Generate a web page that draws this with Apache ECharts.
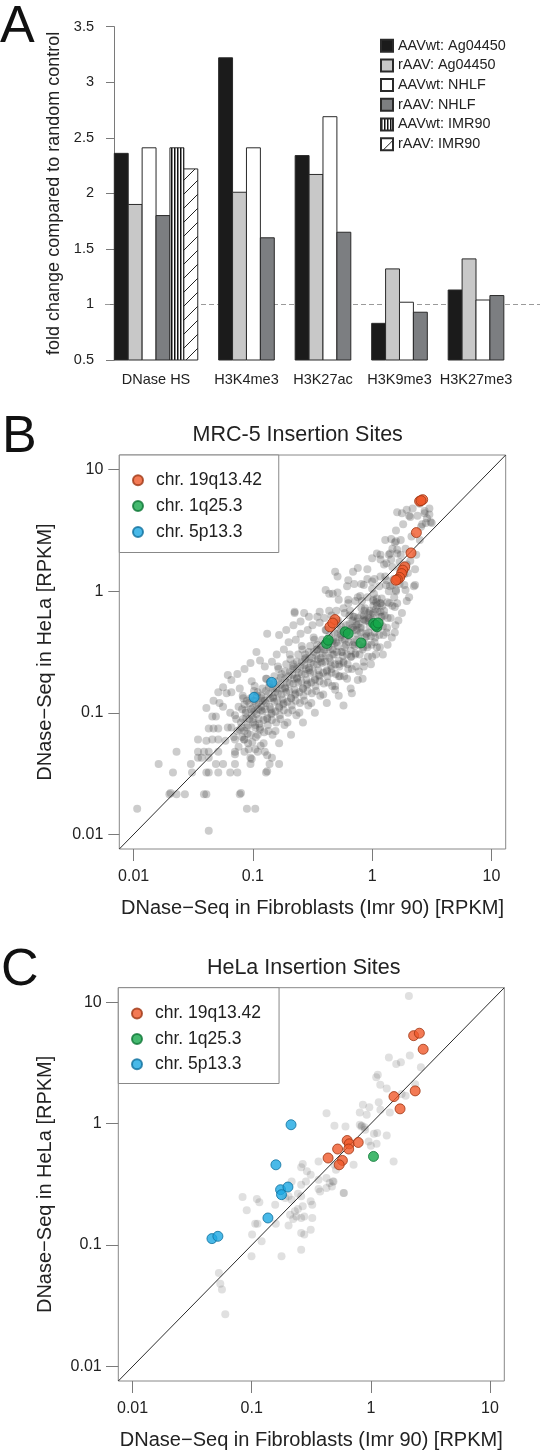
<!DOCTYPE html>
<html><head><meta charset="utf-8">
<script src="https://cdn.jsdelivr.net/npm/echarts@6/dist/echarts.min.js"></script>
<style>html,body{margin:0;padding:0;background:#fff}#c{width:550px;height:1452px}</style>
</head><body><div id="c"></div>
<script>
// ---------------- Panel A data ----------------
const groupNames = ['DNase HS', 'H3K4me3', 'H3K27ac', 'H3K9me3', 'H3K27me3'];
const barSeriesNames = ['AAVwt: Ag04450', 'rAAV: Ag04450', 'AAVwt: NHLF', 'rAAV: NHLF', 'AAVwt: IMR90', 'rAAV: IMR90'];
const aavwtAg04450 = [2.36, 3.22, 2.34, 0.83, 1.13];
const raavAg04450  = [1.90, 2.01, 2.17, 1.32, 1.41];
const aavwtNHLF    = [2.41, 2.41, 2.69, 1.02, 1.04];
const raavNHLF     = [1.80, 1.60, 1.65, 0.93, 1.08];
const aavwtIMR90   = [2.41, null, null, null, null];
const raavIMR90    = [2.22, null, null, null, null];
const barValues = [aavwtAg04450, raavAg04450, aavwtNHLF, raavNHLF, aavwtIMR90, raavIMR90];

// ---------------- Panel B / C data (log10 RPKM: [Imr90, HeLa]) ----------------
const chrNames = ['chr. 19q13.42', 'chr. 1q25.3', 'chr. 5p13.3'];
const axisTicksLog = [0.01, 0.1, 1, 10];

const mrc5Other = [
[-1.97,-1.79],[-1.79,-1.42],[-1.67,-1.49],[-1.64,-1.32],[-1.70,-1.67],[-1.69,-1.66],[-1.64,-1.67],[-1.57,-1.67],[-1.41,-1.67],[-1.39,-1.67],[-1.11,-1.67],[-1.10,-1.66],[-1.05,-1.79],[-0.98,-1.79],[-1.37,-1.97],
[-1.52,-1.42],[-1.46,-1.37],[-1.43,-1.37],[-1.37,-1.37],[-1.31,-1.42],[-1.25,-1.42],[-1.15,-1.42],[-1.02,-1.42],[-0.86,-1.42],[-0.78,-1.42],
[-1.51,-1.49],[-1.39,-1.49],[-1.37,-1.49],[-1.29,-1.49],[-1.19,-1.49],[-1.13,-1.49],[-0.89,-1.49],[-0.88,-1.48],
[-1.02,-1.37],[-1.01,-1.38],[-0.84,-1.37],
[-1.46,-1.22],[-1.39,-1.23],[-1.34,-1.22],[-1.29,-1.22],[-1.23,-1.23],[-1.15,-1.22],[-1.07,-1.22],
[-1.46,-1.32],[-1.41,-1.32],[-1.37,-1.32],[-1.29,-1.32],[-1.15,-1.32],[-1.07,-1.32],[-0.96,-1.32],[-0.90,-1.32],
[-1.37,-1.13],[-1.33,-1.13],[-1.29,-1.13],[-1.21,-1.12],[-1.31,-1.03],[-1.34,-1.03],[-1.28,-0.92],[-1.25,-0.95],[-1.22,-0.84],[-1.18,-0.83],
[-0.97,-0.50],[-1.02,-0.59],[-0.94,-0.57],[-1.07,-0.64],[-1.13,-0.68],[-1.18,-0.73],[-1.21,-0.69],[-1.25,-0.79],[-1.29,-0.83],[-1.33,-0.90],[-1.39,-0.96],
[-0.88,-0.35],[-0.78,-0.36],[-0.72,-0.32],[-0.66,-0.28],[-0.60,-0.25],[-0.53,-0.21],[-0.44,-0.17],[-0.65,-0.18],[-0.36,-0.02],[-0.29,-0.01],[-0.21,0.04],[-0.15,0.06],[-0.07,0.05],[0.00,0.08],
[0.04,-0.46],[0.00,-0.54],[-0.07,-0.62],[-0.12,-0.73],[-0.17,-0.84],[-0.24,-0.94],[-0.31,-0.81],[-0.28,-0.70],[-0.20,-0.64],
[0.21,0.65],[0.25,0.64],[0.29,0.67],[0.32,0.61],[0.44,0.64],[0.48,0.63],[0.49,0.57],[0.50,0.56],[0.45,0.56],[0.41,0.53],
[0.11,0.42],[0.16,0.43],[0.20,0.41],[0.19,0.40],[0.17,0.35],[0.21,0.31],[0.15,0.31],[0.14,0.30],[0.04,0.31],[0.07,0.26],[0.00,0.27],[0.12,0.23],[0.17,0.20],[0.23,0.24],
[-0.12,0.19],[-0.16,0.16],[-0.31,0.16],[-0.29,0.12],[-0.20,0.09],[-0.09,0.06],[-0.04,0.10],[0.07,0.12],[0.12,0.09],[0.15,0.04],[0.20,0.01],[0.28,0.01],[0.36,0.05],[0.35,0.04],[0.31,-0.05],
[-0.39,0.01],[-0.33,-0.02],[-0.28,-0.07],[-0.20,-0.07],[-0.12,-0.05],[-0.04,-0.05],[0.01,-0.07],[0.07,-0.10],[0.13,-0.09],[0.19,-0.13],
[-0.65,-0.17],[-0.57,-0.18],[-0.46,-0.21],[-0.36,-0.16],[-0.23,-0.18],[-0.15,-0.21],[-0.07,-0.20],[0.01,-0.18],[0.07,-0.21],
[-1.15,-1.02],[-1.12,-0.95],[-1.10,-1.08],[-1.08,-0.88],[-1.13,-1.15],[-1.06,-1.00],[-1.09,-1.20],[-1.11,-0.80],[-1.05,-1.12],[-1.07,-0.93],
[-1.03,-1.05],[-1.00,-0.96],[-0.98,-1.10],[-1.02,-0.88],[-0.96,-1.18],[-0.99,-0.82],[-1.04,-1.25],[-0.97,-1.01],[-1.01,-0.74],[-0.95,-0.92],[-0.98,-1.30],
[-0.93,-0.98],[-0.90,-0.90],[-0.88,-1.05],[-0.92,-0.80],[-0.87,-1.15],[-0.94,-1.12],[-0.89,-0.72],[-0.91,-1.25],[-0.86,-0.95],[-0.90,-0.62],[-0.93,-0.86],[-0.88,-1.35],
[-0.83,-0.88],[-0.80,-0.80],[-0.78,-0.95],[-0.82,-0.70],[-0.77,-1.05],[-0.84,-1.00],[-0.79,-0.62],[-0.81,-1.15],[-0.76,-0.85],[-0.80,-0.52],[-0.83,-0.76],[-0.78,-1.25],[-0.84,-0.58],
[-0.73,-0.80],[-0.70,-0.70],[-0.68,-0.88],[-0.72,-0.60],[-0.67,-0.98],[-0.74,-0.92],[-0.69,-0.52],[-0.71,-1.08],[-0.66,-0.76],[-0.70,-0.42],[-0.73,-0.66],[-0.68,-1.18],[-0.74,-0.48],[-0.66,-0.62],
[-0.63,-0.72],[-0.60,-0.62],[-0.58,-0.80],[-0.62,-0.52],[-0.57,-0.90],[-0.64,-0.84],[-0.59,-0.45],[-0.61,-1.00],[-0.56,-0.68],[-0.60,-0.35],[-0.63,-0.58],[-0.58,-1.08],[-0.64,-0.40],[-0.56,-0.55],
[-0.53,-0.65],[-0.50,-0.55],[-0.48,-0.73],[-0.52,-0.45],[-0.47,-0.82],[-0.54,-0.76],[-0.49,-0.38],[-0.51,-0.92],[-0.46,-0.60],[-0.50,-0.28],[-0.53,-0.50],[-0.48,-1.00],[-0.54,-0.32],[-0.46,-0.48],
[-0.43,-0.58],[-0.40,-0.48],[-0.38,-0.66],[-0.42,-0.40],[-0.37,-0.75],[-0.44,-0.70],[-0.39,-0.32],[-0.41,-0.85],[-0.36,-0.55],[-0.40,-0.22],[-0.43,-0.45],[-0.38,-0.92],[-0.44,-0.26],[-0.36,-0.42],
[-0.33,-0.52],[-0.30,-0.42],[-0.28,-0.60],[-0.32,-0.34],[-0.27,-0.70],[-0.34,-0.64],[-0.29,-0.26],[-0.31,-0.78],[-0.26,-0.50],[-0.30,-0.16],[-0.33,-0.40],[-0.28,-0.86],[-0.34,-0.20],[-0.26,-0.36],
[-0.23,-0.46],[-0.20,-0.36],[-0.18,-0.54],[-0.22,-0.28],[-0.17,-0.64],[-0.24,-0.58],[-0.19,-0.20],[-0.21,-0.72],[-0.16,-0.44],[-0.20,-0.10],[-0.23,-0.34],[-0.18,-0.80],[-0.24,-0.14],[-0.16,-0.30],
[-0.13,-0.40],[-0.10,-0.30],[-0.08,-0.48],[-0.12,-0.22],[-0.07,-0.58],[-0.14,-0.52],[-0.09,-0.14],[-0.11,-0.66],[-0.06,-0.38],[-0.10,-0.04],[-0.13,-0.28],[-0.08,-0.72],[-0.14,-0.08],[-0.06,-0.24],
[-0.03,-0.34],[0.00,-0.24],[0.02,-0.42],[-0.02,-0.16],[0.03,-0.52],[-0.04,-0.46],[0.01,-0.08],[-0.01,-0.60],[0.04,-0.30],[0.00,0.02],[-0.03,-0.22],[0.02,0.10],[-0.04,0.18],[0.04,-0.12],
[0.07,-0.26],[0.10,-0.16],[0.12,-0.34],[0.08,-0.06],[0.13,-0.44],[0.06,0.04],[0.11,0.12],[0.09,-0.52],[0.14,0.00],[0.10,0.22],[0.07,0.30],[0.13,-0.22],
[0.17,-0.12],[0.20,0.00],[0.22,-0.24],[0.18,0.10],[0.23,0.18],[0.16,0.26],[0.21,0.34],[0.19,-0.34],[0.24,0.42],[0.20,0.50],[0.17,0.05],
[0.27,0.05],[0.30,0.15],[0.32,0.25],[0.28,0.35],[0.33,0.45],[0.26,0.55],[0.31,0.62],[0.29,-0.08],[0.34,0.68],
[0.37,0.30],[0.40,0.42],[0.42,0.55],[0.38,0.62],[0.44,0.66],[0.46,0.60],[0.40,0.72],[0.36,0.18],[0.48,0.68],
[-1.08,-1.05],[-1.06,-0.98],[-1.04,-1.10],[-1.03,-0.92],[-1.01,-1.02],[-1.07,-1.15],[-1.02,-1.18],[-1.05,-0.90],[-1.00,-1.08],[-1.09,-0.97],
[-0.99,-0.99],[-0.97,-0.93],[-0.95,-1.05],[-0.93,-0.88],[-0.92,-0.99],[-0.98,-1.12],[-0.94,-1.14],[-0.96,-0.83],[-0.91,-1.06],[-0.99,-0.90],[-0.93,-0.95],
[-0.89,-0.92],[-0.87,-0.85],[-0.85,-0.97],[-0.83,-0.80],[-0.82,-0.91],[-0.88,-1.04],[-0.84,-1.06],[-0.86,-0.76],[-0.81,-0.99],[-0.89,-0.82],[-0.83,-0.87],
[-0.79,-0.84],[-0.77,-0.77],[-0.75,-0.89],[-0.73,-0.72],[-0.72,-0.83],[-0.78,-0.96],[-0.74,-0.98],[-0.76,-0.68],[-0.71,-0.91],[-0.79,-0.74],[-0.73,-0.79],
[-0.69,-0.76],[-0.67,-0.69],[-0.65,-0.81],[-0.63,-0.64],[-0.62,-0.75],[-0.68,-0.88],[-0.64,-0.90],[-0.66,-0.60],[-0.61,-0.83],[-0.69,-0.66],[-0.63,-0.71],
[-0.59,-0.68],[-0.57,-0.61],[-0.55,-0.73],[-0.53,-0.56],[-0.52,-0.67],[-0.58,-0.80],[-0.54,-0.82],[-0.56,-0.52],[-0.51,-0.75],[-0.59,-0.58],[-0.53,-0.63],
[-0.49,-0.60],[-0.47,-0.53],[-0.45,-0.65],[-0.43,-0.48],[-0.42,-0.59],[-0.48,-0.72],[-0.44,-0.74],[-0.46,-0.44],[-0.41,-0.67],[-0.49,-0.50],[-0.43,-0.55],
[-0.39,-0.53],[-0.37,-0.46],[-0.35,-0.58],[-0.33,-0.41],[-0.32,-0.52],[-0.38,-0.65],[-0.34,-0.67],[-0.36,-0.37],[-0.31,-0.60],[-0.39,-0.43],[-0.33,-0.48],
[-0.29,-0.45],[-0.27,-0.38],[-0.25,-0.50],[-0.23,-0.33],[-0.22,-0.44],[-0.28,-0.57],[-0.24,-0.59],[-0.26,-0.29],[-0.21,-0.52],[-0.29,-0.35],[-0.23,-0.40],
[-0.19,-0.37],[-0.17,-0.30],[-0.15,-0.42],[-0.13,-0.25],[-0.12,-0.36],[-0.18,-0.49],[-0.14,-0.51],[-0.16,-0.21],[-0.11,-0.44],[-0.19,-0.27],[-0.13,-0.32],
[-0.09,-0.30],[-0.07,-0.23],[-0.05,-0.35],[-0.03,-0.18],[-0.02,-0.29],[-0.08,-0.42],[-0.04,-0.44],[-0.06,-0.14],[-0.01,-0.37],[-0.09,-0.20],[-0.03,-0.25],
[0.01,-0.22],[0.03,-0.15],[0.05,-0.27],[0.07,-0.10],[0.08,-0.21],[0.02,-0.34],[0.06,-0.36],[0.04,-0.06],[0.09,-0.29],[0.01,-0.12],[0.07,-0.17],
[-1.18,-1.12],[-1.16,-1.20],[-1.14,-1.05],[-1.12,-1.28],[-1.19,-1.00],[-1.15,-1.34],[-1.11,-1.14],
[-1.095,-1.12],[-1.075,-1.22],[-1.055,-1.04],[-1.035,-1.30],[-1.015,-0.97],[-1.085,-0.86],[-1.045,-1.17],[-1.005,-1.24],
[-0.995,-1.05],[-0.975,-1.20],[-0.955,-0.97],[-0.935,-1.27],[-0.915,-0.90],[-0.985,-0.78],[-0.945,-1.09],[-0.905,-1.16],[-0.965,-0.86],
[-0.895,-0.97],[-0.875,-1.10],[-0.855,-0.88],[-0.835,-1.18],[-0.815,-0.83],[-0.885,-0.72],[-0.845,-1.01],[-0.805,-1.08],[-0.865,-0.79],
[-0.795,-0.90],[-0.775,-1.02],[-0.755,-0.80],[-0.735,-1.10],[-0.715,-0.75],[-0.785,-0.64],[-0.745,-0.93],[-0.705,-1.00],[-0.765,-0.71],
[-0.695,-0.82],[-0.675,-0.94],[-0.655,-0.72],[-0.635,-1.02],[-0.615,-0.67],[-0.685,-0.56],[-0.645,-0.85],[-0.605,-0.92],[-0.665,-0.64],
[-0.595,-0.74],[-0.575,-0.86],[-0.555,-0.64],[-0.535,-0.94],[-0.515,-0.59],[-0.585,-0.48],[-0.545,-0.77],[-0.505,-0.84],[-0.565,-0.56],
[-0.495,-0.66],[-0.475,-0.78],[-0.455,-0.56],[-0.435,-0.86],[-0.415,-0.51],[-0.485,-0.40],[-0.445,-0.69],[-0.405,-0.76],[-0.465,-0.48],
[-0.395,-0.58],[-0.375,-0.70],[-0.355,-0.48],[-0.335,-0.78],[-0.315,-0.43],[-0.385,-0.32],[-0.345,-0.61],[-0.305,-0.68],[-0.365,-0.40],
[-0.295,-0.50],[-0.275,-0.62],[-0.255,-0.40],[-0.235,-0.70],[-0.215,-0.35],[-0.285,-0.24],[-0.245,-0.53],[-0.205,-0.60],[-0.265,-0.32],
[-0.195,-0.42],[-0.175,-0.54],[-0.155,-0.32],[-0.135,-0.62],[-0.115,-0.27],[-0.185,-0.16],[-0.145,-0.45],[-0.105,-0.52],[-0.165,-0.24],
[-0.095,-0.34],[-0.075,-0.46],[-0.055,-0.24],[-0.035,-0.54],[-0.015,-0.19],[-0.085,-0.08],[-0.045,-0.37],[-0.005,-0.44],[-0.065,-0.16],
[0.005,-0.27],[0.025,-0.38],[0.045,-0.17],[0.065,-0.46],[0.085,-0.12],[0.015,-0.02],[0.055,-0.30],[0.095,-0.36],[0.035,-0.09],
[0.105,-0.20],[0.125,-0.30],[0.145,-0.10],[0.165,-0.38],[0.185,-0.05],[0.115,0.05],[0.155,-0.22],[0.195,-0.28],
[0.21,-0.10],[0.23,0.06],[0.25,-0.18],[0.27,0.14],[0.29,0.22],[0.24,0.30]
];
const mrc5Chr19 = [[0.398,0.740],[0.424,0.753],[0.410,0.745],[0.371,0.482],[0.326,0.315],[0.273,0.200],[0.257,0.173],[0.247,0.145],[0.231,0.113],[0.212,0.096],[0.199,0.090],[-0.354,-0.293],[-0.312,-0.233],[-0.330,-0.262]];
const mrc5Chr1 = [[-0.382,-0.430],[-0.368,-0.403],[-0.226,-0.334],[-0.200,-0.348],[-0.093,-0.425],[0.013,-0.265],[0.040,-0.293],[0.030,-0.280],[0.050,-0.262]];
const mrc5Chr5 = [[-0.842,-0.750],[-0.990,-0.873]];
const mrc5CountText = ['16', '12', '7', '25', '3', '3', '6', '2'];
const mrc5CountAt = [[0.559,0.756],[0.400,0.145],[-0.466,-0.175],[0.177,-0.315],[-0.186,-0.449],[0.003,-0.471],[-0.325,-0.534],[-0.920,-0.663]];

const helaOther = [
[0.319,1.052],[0.327,0.561],[0.252,0.506],[0.213,0.492],[0.151,0.544],[0.045,0.383],[0.058,0.402],[0.420,0.465],[0.372,0.325],[0.133,0.289],[0.258,0.245],[0.292,0.229],
[0.066,0.177],[-0.067,0.155],[-0.013,0.136],[-0.372,0.086],[-0.093,0.092],[-0.035,0.073],[0.080,0.114],[0.159,0.092],[-0.306,-0.018],[-0.213,-0.023],[-0.093,-0.010],[-0.053,-0.029],
[0.053,-0.078],[0.133,-0.097],[0.079,0.320],[0.191,-0.311],[-0.019,-0.147],[-0.048,-0.050],[-0.075,-0.018],[-0.145,-0.339],[-0.313,-0.476],[-0.327,-0.517],[-0.229,-0.571],
[-0.080,-0.023],[0.026,-0.083],[0.048,-0.166],[0.000,-0.182],[-0.439,-0.311],[-0.572,-0.333],[-0.585,-0.360],[-0.537,-0.393],[-0.505,-0.421],[-0.545,-0.476],[-0.439,-0.462],
[-0.373,-0.448],[-0.346,-0.489],[-0.319,-0.476],[-0.293,-0.380],[-0.306,-0.338],[-0.226,-0.572],[-0.439,-0.539],[-0.426,-0.558],[-0.373,-0.530],[-0.585,-0.503],[-0.612,-0.577],
[-0.585,-0.599],[-0.665,-0.476],[-0.492,-0.668],[-0.505,-0.640],[-0.572,-0.681],[-0.612,-0.703],[-0.638,-0.722],[-0.691,-0.599],[-0.665,-0.626],[-0.718,-0.613],[-0.585,-0.777],
[-0.559,-0.764],[-0.625,-0.764],[-0.492,-0.777],[-0.678,-0.750],[-0.652,-0.786],[-0.505,-0.873],[-0.585,-0.901],[-0.691,-0.840],[-0.559,-0.914],[-0.803,-0.668],[-0.957,-0.621],
[-0.936,-0.648],[-1.077,-0.605],[-1.042,-0.714],[-0.971,-0.824],[-0.952,-0.824],[-0.798,-0.824],[-0.997,-0.914],[-0.917,-0.969],[-1.002,-1.093],[-0.750,-1.093],[-0.585,-1.038],
[-1.276,-1.230],[-1.264,-1.318],[-1.250,-1.367],[-1.222,-1.570]
];
const helaChr19 = [[0.359,0.725],[0.407,0.745],[0.439,0.613],[0.372,0.270],[0.194,0.223],[0.245,0.122],[-0.199,-0.139],[-0.181,-0.166],[-0.106,-0.155],[-0.279,-0.209],[-0.186,-0.209],[-0.359,-0.283],[-0.239,-0.303],[-0.266,-0.339]];
const helaChr1 = [[0.022,-0.270]];
const helaChr5 = [[-0.670,-0.009],[-0.797,-0.339],[-0.758,-0.544],[-0.696,-0.522],[-0.750,-0.585],[-0.864,-0.777],[-1.334,-0.947],[-1.284,-0.928]];
const helaCountText = ['10', '13'];
const helaCountAt = [[-0.545,0.054],[-0.359,-0.100]];

// ---------------- build ----------------
const F = "'Liberation Sans', Arial, Helvetica, sans-serif";
const TXT = '#222';
const AXC = '#7a7a7a';
const LOG_MIN = Math.pow(10, -2.12), LOG_MAX = Math.pow(10, 1.12);
const toRPKM = arr => arr.map(p => [Math.pow(10, p[0]), Math.pow(10, p[1])]);

function stripePattern() {
  const c = document.createElement('canvas'); c.width = 3; c.height = 3;
  const g = c.getContext('2d'); g.fillStyle = '#fff'; g.fillRect(0, 0, 3, 3);
  g.fillStyle = '#111'; g.fillRect(0, 0, 1.5, 3);
  return { image: c, repeat: 'repeat' };
}
function hatchPattern() {
  const c = document.createElement('canvas'); c.width = 14; c.height = 14;
  const g = c.getContext('2d'); g.fillStyle = '#fff'; g.fillRect(0, 0, 14, 14);
  g.strokeStyle = '#222'; g.lineWidth = 1; g.beginPath();
  g.moveTo(0, 14); g.lineTo(14, 0); g.moveTo(-1, 1); g.lineTo(1, -1); g.moveTo(13, 15); g.lineTo(15, 13);
  g.stroke();
  return { image: c, repeat: 'repeat' };
}
const barFills = ['#1b1b1b', '#c8c8c8', '#ffffff', '#7c7e81', stripePattern(), hatchPattern()];

const groupStart = [], groupCenter = [];
let cursor = 0;
groupNames.forEach((g, gi) => {
  const n = barValues.filter(v => v[gi] != null).length;
  groupStart.push(cursor); groupCenter.push(cursor + n / 2);
  cursor += n + 1.5;
});
function barData(si) {
  const out = [];
  groupNames.forEach((g, gi) => {
    const v = barValues[si][gi];
    if (v == null) return;
    let slot = 0;
    for (let k = 0; k < si; k++) if (barValues[k][gi] != null) slot++;
    out.push([groupStart[gi] + slot, v]);
  });
  return out;
}
const barSeries = barSeriesNames.map((name, si) => ({
  type: 'custom', name, xAxisIndex: 0, yAxisIndex: 0, z: 3,
  itemStyle: { color: barFills[si], borderColor: '#2a2a2a', borderWidth: 1 },
  encode: { x: 0, y: 1 },
  data: barData(si),
  renderItem: (params, api) => {
    const x = api.value(0), v = api.value(1);
    const a = api.coord([x, v]), b = api.coord([x + 1, 0.5]);
    return { type: 'rect', shape: { x: a[0], y: a[1], width: b[0] - a[0], height: b[1] - a[1] },
      style: { fill: barFills[si], stroke: '#2a2a2a', lineWidth: 1 } };
  },
  markLine: si === 0 ? { silent: true, symbol: 'none', z: 1, label: { show: false },
    lineStyle: { type: [5, 3], color: '#9a9a9a', width: 1 }, data: [{ yAxis: 1 }] } : undefined
}));

const chrColors = [
  { color: '#f0592b', borderColor: '#9e3613' },
  { color: '#17a84b', borderColor: '#0d7534' },
  { color: '#1ca8e2', borderColor: '#0f6f9c' }
];
function scatterPanel(idx, other, grayColor, groups, countText, countAt) {
  const s = [];
  s.push({ type: 'scatter', xAxisIndex: idx, yAxisIndex: idx, silent: true, z: 2,
    symbolSize: 8, itemStyle: { color: grayColor }, data: toRPKM(other) });
  s.push({ type: 'line', xAxisIndex: idx, yAxisIndex: idx, silent: true, z: 3, symbol: 'none',
    lineStyle: { color: '#2b2b2b', width: 1 }, data: [[LOG_MIN, LOG_MIN], [LOG_MAX, LOG_MAX]] });
  groups.forEach((g, gi) => s.push({ type: 'scatter', name: chrNames[gi], xAxisIndex: idx, yAxisIndex: idx,
    z: 4, symbolSize: 10, itemStyle: { color: chrColors[gi].color, borderColor: chrColors[gi].borderColor, borderWidth: 1 },
    data: toRPKM(g) }));
  s.push({ type: 'scatter', xAxisIndex: idx, yAxisIndex: idx, silent: true, z: 5, symbolSize: 1,
    itemStyle: { opacity: 0 },
    label: { show: true, position: 'inside', fontSize: 16, fontFamily: F, color: '#333' },
    data: toRPKM(countAt).map((v, i) => ({ value: v, label: { formatter: countText[i] } })) });
  return s;
}
const logFmt = v => String(+Number(v).toPrecision(2));
function logAxis(idx, isX, name, nameGap, labelMargin, tickLen) {
  return {
    type: 'log', logBase: 10, gridIndex: idx, min: LOG_MIN, max: LOG_MAX,
    axisLine: { show: false },
    axisTick: { show: true, customValues: axisTicksLog, length: tickLen, lineStyle: { color: AXC, width: 1 } },
    axisLabel: { customValues: axisTicksLog, formatter: logFmt, fontSize: 16, fontFamily: F, color: TXT, margin: labelMargin },
    splitLine: { show: false }, minorTick: { show: false },
    name, nameLocation: 'middle', nameGap, nameRotate: isX ? 0 : 90,
    nameTextStyle: { fontSize: 20, fontFamily: F, color: TXT }
  };
}
const chrLegend = (left, top, padding, gap) => ({
  data: chrNames, orient: 'vertical', left, top, padding,
  itemWidth: 10, itemHeight: 10, itemGap: gap, selectedMode: false, borderColor: '#888', borderWidth: 1,
  backgroundColor: '#fff', textStyle: { fontSize: 17.5, lineHeight: 17.5, fontFamily: F, color: TXT, padding: [0, 0, 0, 8] }
});

const option = {
  animation: false,
  backgroundColor: '#fff',
  textStyle: { fontFamily: F },
  grid: [
    { left: 105, top: 26.7, width: 435, height: 333.3, show: false },
    { left: 119.3, top: 455, width: 386.4, height: 394, show: true, borderColor: '#888', borderWidth: 1, backgroundColor: 'transparent' },
    { left: 118.3, top: 987.7, width: 386, height: 393.3, show: true, borderColor: '#888', borderWidth: 1, backgroundColor: 'transparent' }
  ],
  xAxis: [
    { type: 'value', gridIndex: 0, min: -0.669, max: 30.6,
      axisLine: { show: false }, axisTick: { show: false }, splitLine: { show: false },
      axisLabel: { customValues: groupCenter, fontSize: 14.5, fontFamily: F, color: TXT, margin: 12,
        formatter: v => groupNames[groupCenter.findIndex(c => Math.abs(c - v) < 1e-6)] || '' } },
    logAxis(1, true, 'DNase\u2212Seq in Fibroblasts (Imr 90) [RPKM]', 49.3, 20, 12),
    logAxis(2, true, 'DNase\u2212Seq in Fibroblasts (Imr 90) [RPKM]', 49, 19.3, 12)
  ],
  yAxis: [
    { type: 'value', gridIndex: 0, min: 0.5, max: 3.5, interval: 0.5,
      axisLine: { show: true, lineStyle: { color: AXC, width: 1 } },
      axisTick: { show: true, length: 8.3, lineStyle: { color: AXC } },
      axisLabel: { fontSize: 14.5, fontFamily: F, color: TXT, margin: 11 },
      splitLine: { show: false },
      name: 'fold change compared to random control', nameLocation: 'middle', nameGap: 41, nameRotate: 90,
      nameTextStyle: { fontSize: 18, fontFamily: F, color: TXT } },
    logAxis(1, false, 'DNase\u2212Seq in HeLa [RPKM]', 64.3, 16, 11),
    logAxis(2, false, 'DNase\u2212Seq in HeLa [RPKM]', 63.3, 16.6, 12.3)
  ],
  legend: [
    { data: barSeriesNames, orient: 'vertical', left: 380, top: 38.2, padding: 0, icon: 'rect',
      itemWidth: 12, itemHeight: 12, itemGap: 4.7, selectedMode: false,
      textStyle: { fontSize: 14.4, lineHeight: 15, fontFamily: F, color: TXT } },
    chrLegend(119.3, 455, [16.25, 16.7, 11.55, 12.7], 7.85),
    chrLegend(118.3, 987.7, [16.85, 18, 10.25, 12.7], 7.35)
  ],
  graphic: [
    { type: 'text', x: 0, y: 27.5, style: { text: 'A', fontSize: 52, fontFamily: F, fill: '#111', verticalAlign: 'middle' } },
    { type: 'text', x: 2, y: 438, style: { text: 'B', fontSize: 52, fontFamily: F, fill: '#111', verticalAlign: 'middle' } },
    { type: 'text', x: 1, y: 971, style: { text: 'C', fontSize: 52, fontFamily: F, fill: '#111', verticalAlign: 'middle' } },
    { type: 'text', x: 297.7, y: 435, style: { text: 'MRC-5 Insertion Sites', fontSize: 21.5, fontFamily: F, fill: TXT, align: 'center', verticalAlign: 'middle' } },
    { type: 'text', x: 303.7, y: 968.3, style: { text: 'HeLa Insertion Sites', fontSize: 21.5, fontFamily: F, fill: TXT, align: 'center', verticalAlign: 'middle' } }
  ],
  series: [
    ...barSeries,
    ...scatterPanel(1, mrc5Other, 'rgba(70,70,70,0.34)', [mrc5Chr19, mrc5Chr1, mrc5Chr5], mrc5CountText, mrc5CountAt),
    ...scatterPanel(2, helaOther, 'rgba(80,80,80,0.22)', [helaChr19, helaChr1, helaChr5], helaCountText, helaCountAt)
  ]
};
const chart = echarts.init(document.getElementById('c'), null, { renderer: 'canvas', devicePixelRatio: 1 });
chart.setOption(option);
</script></body></html>
